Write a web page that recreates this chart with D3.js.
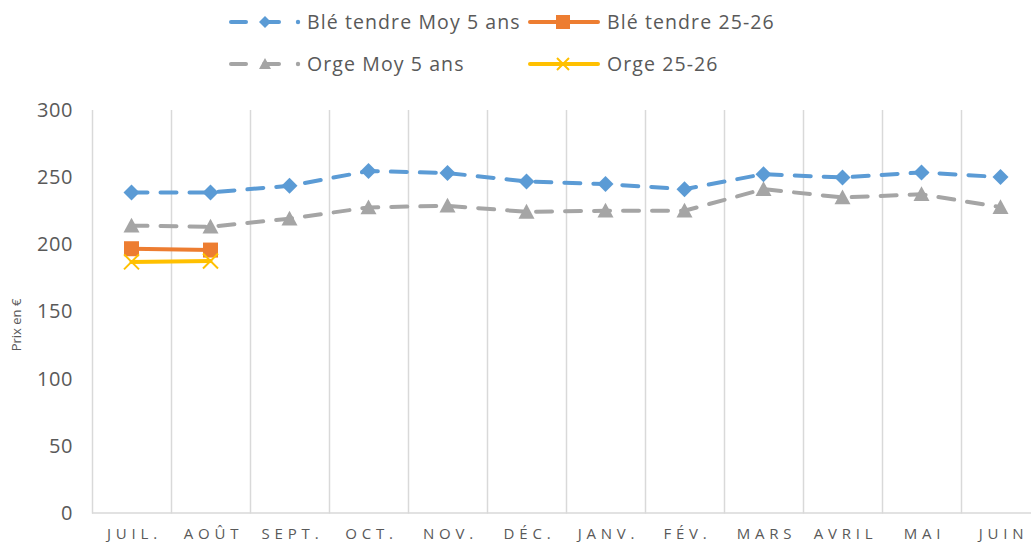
<!DOCTYPE html>
<html><head><meta charset="utf-8">
<script src="https://cdn.jsdelivr.net/npm/d3@7"></script>
<style>
html,body{margin:0;padding:0;background:#fff;}
svg{display:block;font-family:"Open Sans",Lato,sans-serif;}
</style></head>
<body>
<script>
const months = ["JUIL.","AOÛT","SEPT.","OCT.","NOV.","DÉC.","JANV.","FÉV.","MARS","AVRIL","MAI","JUIN"];
const bleMoy = [238.6,238.6,243.5,254.5,253,246.8,244.8,241,252.2,249.7,253.5,250];
const orgeMoy = [213.8,213,219,227.4,228.6,224.1,224.9,224.9,241,234.8,237.2,227.6];
const ble2526 = [196.6,195.6];
const orge2526 = [186.8,187.4];
const yTicks = [0,50,100,150,200,250,300];
const seriesNames = ["Blé tendre Moy 5 ans","Blé tendre 25-26","Orge Moy 5 ans","Orge 25-26"];

const W=1031,H=542;
const svg=d3.select("body").append("svg").attr("width",W).attr("height",H);
const x=d3.scaleBand().domain(months).range([92,92+12*79]).padding(0);
const y=d3.scaleLinear().domain([0,300]).range([512.5,110]);

const bounds=months.map(m=>x(m)).concat([x.range()[1]]);
svg.append("g").selectAll("line").data(bounds).join("line")
  .attr("x1",d=>d+0.5).attr("x2",d=>d+0.5).attr("y1",y(300)).attr("y2",y(0)+1)
  .attr("stroke","#D9D9D9").attr("stroke-width",1.5);
svg.append("line").attr("x1",92).attr("x2",1040).attr("y1",y(0)+0.5).attr("y2",y(0)+0.5)
  .attr("stroke","#D9D9D9").attr("stroke-width",1.5);

svg.append("g").selectAll("text").data(yTicks).join("text")
  .attr("x",73).attr("y",d=>y(d)).attr("dy","0.36em").attr("text-anchor","end")
  .attr("font-size",20).attr("letter-spacing","0.6px").attr("fill","#595959").text(d=>d);
svg.append("text").attr("transform","translate(21,325) rotate(-90)")
  .attr("text-anchor","middle").attr("font-size",13).attr("fill","#595959").text("Prix en €");
svg.append("g").selectAll("text").data(months).join("text")
  .attr("x",d=>x(d)+x.bandwidth()/2+3).attr("y",534).attr("dy","0.36em").attr("text-anchor","middle")
  .attr("font-size",15).attr("letter-spacing","4.8px").attr("fill","#595959").text(d=>d);

const cx=i=>x(months[i])+x.bandwidth()/2;
const line=d3.line().x((d,i)=>cx(i)).y(d=>y(d));

function diamond(g,px,py,c,s=8){g.append("path").attr("d",`M${px},${py-s}L${px+s},${py}L${px},${py+s}L${px-s},${py}Z`).attr("fill",c);}
function tri(g,px,py,c,s=8){g.append("path").attr("d",`M${px},${py-s}L${px+s},${py+s*0.85}L${px-s},${py+s*0.85}Z`).attr("fill",c);}
function sq(g,px,py,c,s=7.5){g.append("rect").attr("x",px-s).attr("y",py-s).attr("width",2*s).attr("height",2*s).attr("fill",c);}
function cross(g,px,py,c,s=7.5){g.append("path").attr("d",`M${px-s},${py-s}L${px+s},${py+s}M${px+s},${py-s}L${px-s},${py+s}`).attr("stroke",c).attr("stroke-width",2);}

const series=[
 {data:orgeMoy,color:"#A5A5A5",dash:"16,13",mk:tri},
 {data:bleMoy,color:"#5B9BD5",dash:"16,13",mk:diamond},
 {data:ble2526,color:"#ED7D31",dash:null,mk:sq},
 {data:orge2526,color:"#FFC000",dash:null,mk:cross},
];
series.forEach(s=>{
  const p=svg.append("path").datum(s.data).attr("d",line).attr("fill","none")
    .attr("stroke",s.color).attr("stroke-width",4).attr("stroke-linecap","round").attr("stroke-linejoin","round");
  if(s.dash)p.attr("stroke-dasharray",s.dash);
  const g=svg.append("g");
  s.data.forEach((v,i)=>s.mk(g,cx(i),y(v),s.color));
});

const leg=[
 {name:seriesNames[0],color:"#5B9BD5",dash:true,mk:diamond,x:228,y:22},
 {name:seriesNames[1],color:"#ED7D31",dash:false,mk:sq,x:529,y:22},
 {name:seriesNames[2],color:"#A5A5A5",dash:true,mk:tri,x:228,y:64},
 {name:seriesNames[3],color:"#FFC000",dash:false,mk:cross,x:529,y:64},
];
leg.forEach(l=>{
  const g=svg.append("g");
  if(l.dash){
    g.append("line").attr("x1",l.x+3).attr("x2",l.x+18).attr("y1",l.y).attr("y2",l.y).attr("stroke",l.color).attr("stroke-width",4).attr("stroke-linecap","round");
    g.append("line").attr("x1",l.x+36).attr("x2",l.x+51).attr("y1",l.y).attr("y2",l.y).attr("stroke",l.color).attr("stroke-width",4).attr("stroke-linecap","round");
    l.mk(g,l.x+37,l.y,l.color,6);
    g.append("circle").attr("cx",l.x+70).attr("cy",l.y).attr("r",2.2).attr("fill",l.color);
  } else {
    g.append("line").attr("x1",l.x+1).attr("x2",l.x+69).attr("y1",l.y).attr("y2",l.y).attr("stroke",l.color).attr("stroke-width",4).attr("stroke-linecap","round");
    l.mk(g,l.x+34,l.y,l.color,l.mk===cross?6:7);
  }
  g.append("text").attr("x",l.dash?l.x+79:l.x+78).attr("y",l.y).attr("dy","0.36em")
    .attr("font-size",19.5).attr("letter-spacing","1.1px").attr("fill","#595959").text(l.name);
});
</script>
</body></html>
